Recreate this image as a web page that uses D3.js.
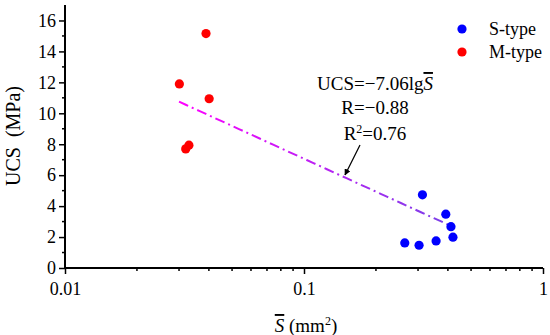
<!DOCTYPE html>
<html>
<head>
<meta charset="utf-8">
<script src="https://cdn.jsdelivr.net/npm/d3@7"></script>
<style>
  body { margin: 0; background: #fff; }
  svg text { font-family: "Liberation Serif", "Times New Roman", serif; fill: #000; }
</style>
</head>
<body>
<svg id="chart" width="550" height="335"></svg>
<script>
// S-type points (mean area mm2, UCS MPa)
const sTypeArea = [0.264, 0.303, 0.313, 0.357, 0.392, 0.412, 0.420];
const sTypeUcs  = [1.62, 1.47, 4.73, 1.75, 3.48, 2.67, 1.99];
// M-type points
const mTypeArea = [0.0301, 0.0389, 0.0401, 0.0320, 0.0330];
const mTypeUcs  = [11.9, 15.15, 10.94, 7.7, 7.94];
// fit UCS = -7.06 lg S, drawn between these S values
const fitSlope  = -7.06;
const fitRange  = [0.030, 0.40];
const yTicks    = [0, 2, 4, 6, 8, 10, 12, 14, 16];
const xTicks    = [0.01, 0.1, 1];
const legendNames = ["S-type", "M-type"];
const legendColors = ["#0000ff", "#ff0000"];

const serif   = '"Liberation Serif", "Times New Roman", serif';
const svg     = d3.select("#chart"),
      margin  = {top: 5, right: 7, bottom: 67, left: 65},
      width   = +svg.attr("width")  - margin.left - margin.right,
      height  = +svg.attr("height") - margin.top  - margin.bottom,
      x       = d3.scaleLog().domain([0.01, 1]).range([0, width]),
      y       = d3.scaleLinear().domain([0, 17]).range([height, 0]),
      g       = svg.append("g")
                   .attr("transform", `translate(${margin.left},${margin.top})`);

// minor ticks
const xMinor = [];
[0.01, 0.1].forEach(d => { for (let k = 2; k <= 9; k++) xMinor.push(d * k); });
g.selectAll(".xminor")
  .data(xMinor)
  .enter().append("line")
    .attr("x1", d => x(d)).attr("x2", d => x(d))
    .attr("y1", height).attr("y2", height + 3)
    .attr("stroke", "#000").attr("stroke-width", 1.5);

g.selectAll(".yminor")
  .data(d3.range(1, 17, 2))
  .enter().append("line")
    .attr("x1", 0).attr("x2", -3)
    .attr("y1", d => y(d)).attr("y2", d => y(d))
    .attr("stroke", "#000").attr("stroke-width", 1.5);

// axes
const xAxis = g.append("g")
    .attr("transform", `translate(0,${height})`)
    .call(d3.axisBottom(x).tickValues(xTicks).tickFormat(d => String(d)).tickSize(6).tickPadding(8));

const yAxis = g.append("g")
    .call(d3.axisLeft(y).tickValues(yTicks).tickSize(6).tickPadding(3));

[xAxis, yAxis].forEach(a => {
  a.attr("font-family", null).attr("font-size", null);
  a.selectAll(".tick line").attr("stroke-width", 1.5);
  a.selectAll("text").style("font-size", "18px").style("font-family", serif);
});
xAxis.select(".domain").attr("stroke-width", 2).attr("d", `M0,0H${width}`);
yAxis.select(".domain").attr("stroke-width", 2).attr("d", `M0,${height}V0`);

// fit line
const defs = svg.append("defs");
const grad = defs.append("linearGradient")
    .attr("id", "fitGrad")
    .attr("gradientUnits", "userSpaceOnUse")
    .attr("x1", x(fitRange[0])).attr("x2", x(fitRange[1]))
    .attr("y1", 0).attr("y2", 0);
grad.append("stop").attr("offset", "0%").attr("stop-color", "#ff00ff");
grad.append("stop").attr("offset", "100%").attr("stop-color", "#7a40e8");

const fitPts = d3.range(0, 41).map(i => {
  const lx = Math.log10(fitRange[0]) + (Math.log10(fitRange[1]) - Math.log10(fitRange[0])) * i / 40;
  return [Math.pow(10, lx), fitSlope * lx];
});
g.append("path")
  .datum(fitPts)
  .attr("fill", "none")
  .attr("stroke", "url(#fitGrad)")
  .attr("stroke-width", 2)
  .attr("stroke-dasharray", "10,4,2,4")
  .attr("d", d3.line().x(d => x(d[0])).y(d => y(d[1])));

// points
g.selectAll(".sdot")
  .data(sTypeArea)
  .enter().append("circle")
    .attr("cx", d => x(d))
    .attr("cy", (d, i) => y(sTypeUcs[i]))
    .attr("r", 4.6)
    .attr("fill", legendColors[0]);

g.selectAll(".mdot")
  .data(mTypeArea)
  .enter().append("circle")
    .attr("cx", d => x(d))
    .attr("cy", (d, i) => y(mTypeUcs[i]))
    .attr("r", 4.6)
    .attr("fill", legendColors[1]);

// legend
legendNames.forEach((name, i) => {
  svg.append("circle")
    .attr("cx", 462).attr("cy", 29 + i * 23)
    .attr("r", 4.6).attr("fill", legendColors[i]);
  svg.append("text")
    .attr("x", 489).attr("y", 35 + i * 23)
    .style("font-size", "18px")
    .text(name);
});

// annotation
const ann = svg.append("text")
    .attr("x", 375).attr("y", 90)
    .attr("text-anchor", "middle")
    .style("font-size", "19px");
ann.append("tspan").text("UCS=\u22127.06lg");
ann.append("tspan").style("font-style", "italic").style("text-decoration", "overline").text("S");

svg.append("text")
  .attr("x", 375).attr("y", 114)
  .attr("text-anchor", "middle")
  .style("font-size", "19px")
  .text("R=\u22120.88");

const r2 = svg.append("text")
  .attr("x", 375).attr("y", 140)
  .attr("text-anchor", "middle")
  .style("font-size", "19px");
r2.append("tspan").text("R");
r2.append("tspan").attr("dy", -7).style("font-size", "12px").text("2");
r2.append("tspan").attr("dy", 7).text("=0.76");

// arrow
defs.append("marker")
  .attr("id", "arrowHead")
  .attr("viewBox", "0 0 10 10")
  .attr("refX", 9).attr("refY", 5)
  .attr("markerWidth", 5).attr("markerHeight", 5)
  .attr("orient", "auto")
  .append("path")
  .attr("d", "M0,0L10,5L0,10Z")
  .attr("fill", "#000");
svg.append("line")
  .attr("x1", 360).attr("y1", 145)
  .attr("x2", 345).attr("y2", 175)
  .attr("stroke", "#000").attr("stroke-width", 1.3)
  .attr("marker-end", "url(#arrowHead)");

// axis titles
svg.append("text")
  .attr("transform", "rotate(-90)")
  .attr("x", -136).attr("y", 20)
  .attr("text-anchor", "middle")
  .style("font-size", "20px")
  .style("white-space", "pre")
  .text("UCS  (MPa)");

const xt = svg.append("text")
  .attr("x", 306).attr("y", 332)
  .attr("text-anchor", "middle")
  .style("font-size", "19px");
xt.append("tspan").style("font-style", "italic").style("text-decoration", "overline").text("S");
xt.append("tspan").text(" (mm");
xt.append("tspan").attr("dy", -7).style("font-size", "12px").text("2");
xt.append("tspan").attr("dy", 7).text(")");
</script>
</body>
</html>
